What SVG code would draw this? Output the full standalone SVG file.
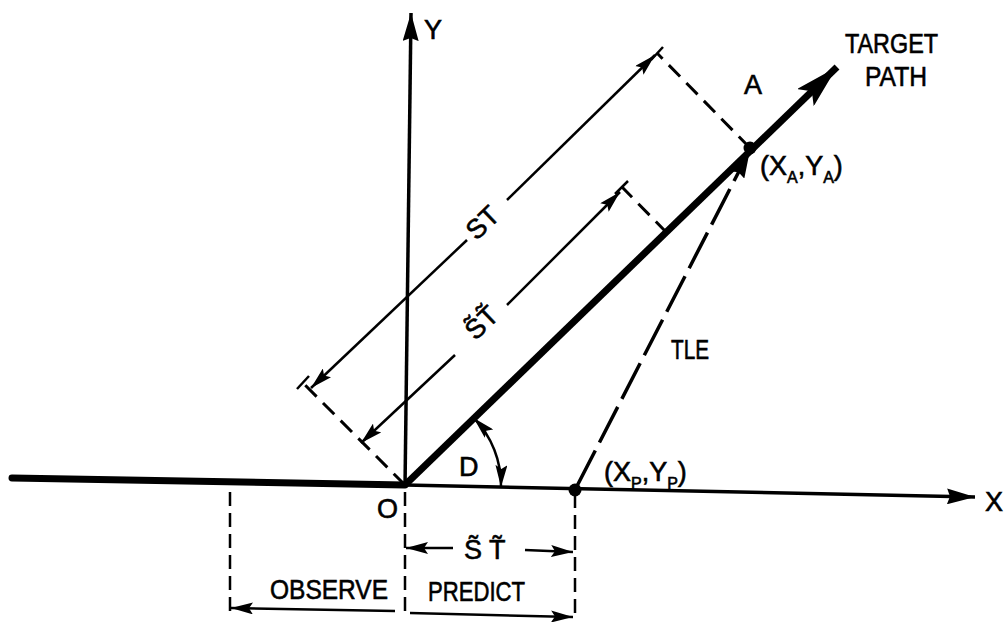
<svg xmlns="http://www.w3.org/2000/svg" width="1008" height="631" viewBox="0 0 1008 631">
<style>
text{font-family:"Liberation Sans","DejaVu Sans",sans-serif;fill:#000;font-size:27px;stroke:#000;stroke-width:0.6}
.thin{stroke:#000;stroke-width:2.5;fill:none}
.dash{stroke:#000;stroke-width:3;fill:none;stroke-dasharray:16 9}
.ldash{stroke:#000;stroke-width:3.5;fill:none;stroke-dasharray:40 9}
.vdash{stroke:#000;stroke-width:2.5;fill:none;stroke-dasharray:14 7}
</style>
<defs>
<marker id="ah" viewBox="0 0 22 12" refX="22" refY="6" markerWidth="22" markerHeight="12" markerUnits="userSpaceOnUse" orient="auto-start-reverse">
<path d="M0,0 L22,6 L0,12 L4,6 Z" fill="#000"/>
</marker>
<marker id="ahb" viewBox="0 0 28 16" refX="28" refY="8" markerWidth="28" markerHeight="16" markerUnits="userSpaceOnUse" orient="auto-start-reverse">
<path d="M0,0 L28,8 L0,16 L3,8 Z" fill="#000"/>
</marker>
<marker id="ahx" viewBox="0 0 44 24" refX="44" refY="12" markerWidth="44" markerHeight="24" markerUnits="userSpaceOnUse" orient="auto">
<path d="M0,0 L44,12 L0,24 L9,12 Z" fill="#000"/>
</marker>
</defs>
<g id="connectors">
<line x1="12" y1="478" x2="405" y2="485" stroke="#000" stroke-width="7" stroke-linecap="round"/>
<line x1="405" y1="485" x2="975" y2="497" stroke="#000" stroke-width="3.5" marker-end="url(#ahb)"/>
<line x1="405" y1="487" x2="411" y2="13" stroke="#000" stroke-width="3.5" marker-end="url(#ahb)"/>
<line x1="405" y1="485" x2="837" y2="67" stroke="#000" stroke-width="7" marker-end="url(#ahx)"/>
<line class="dash" x1="405" y1="485" x2="302" y2="382"/>
<line class="dash" x1="750" y1="148" x2="657" y2="53"/>
<line class="dash" x1="667" y1="233" x2="622" y2="187"/>
<line class="thin" stroke-width="3" x1="297" y1="389" x2="309" y2="376"/>
<line class="thin" stroke-width="3" x1="651" y1="60" x2="663" y2="47"/>
<line class="thin" stroke-width="3" x1="615" y1="194" x2="628" y2="181"/>
<line class="thin" stroke-width="3" x1="660" y1="240" x2="674" y2="226"/>
<line class="thin" x1="467" y1="240" x2="311" y2="388" marker-end="url(#ah)"/>
<line class="thin" x1="507" y1="200" x2="655" y2="55" marker-end="url(#ah)"/>
<line class="thin" x1="455" y1="355" x2="361" y2="443" marker-end="url(#ah)"/>
<line class="thin" x1="507" y1="305" x2="620" y2="192" marker-end="url(#ah)"/>
<path class="thin" stroke-width="3" d="M473.7,417.9 A96 96 0 0 1 501,487" marker-start="url(#ah)" marker-end="url(#ah)"/>
<line class="ldash" x1="577" y1="486" x2="750" y2="150" marker-end="url(#ahb)"/>
<line class="vdash" x1="230" y1="492" x2="230" y2="614"/>
<line class="vdash" x1="405" y1="492" x2="405" y2="618"/>
<line class="vdash" x1="575" y1="494" x2="575" y2="618"/>
<line class="thin" x1="453" y1="548" x2="406" y2="548" marker-end="url(#ah)"/>
<line class="thin" x1="525" y1="550" x2="573" y2="552" marker-end="url(#ah)"/>
<line class="thin" x1="395" y1="611" x2="231" y2="608" marker-end="url(#ah)"/>
<line class="thin" x1="410" y1="613" x2="573" y2="617" marker-end="url(#ah)"/>
</g>
<g id="point-A">
<circle cx="750" cy="148" r="6.5" fill="#000"/>
<text x="744" y="94" font-size="27">A</text>
<text x="760" y="175" font-size="27">(X<tspan font-size="16" dy="8">A</tspan><tspan dy="-8">,Y</tspan><tspan font-size="16" dy="8">A</tspan><tspan dy="-8">)</tspan></text>
</g>
<g id="point-P">
<circle cx="575" cy="490" r="6.5" fill="#000"/>
<text x="604" y="481" font-size="27">(X<tspan font-size="16" dy="8">P</tspan><tspan dy="-8">,Y</tspan><tspan font-size="16" dy="8">P</tspan><tspan dy="-8">)</tspan></text>
</g>
<g id="labels">
<text x="424" y="39">Y</text>
<text x="985" y="511">X</text>
<text x="377" y="518">O</text>
<text x="845" y="53" font-size="27" textLength="93" lengthAdjust="spacingAndGlyphs">TARGET</text>
<text x="865" y="86" font-size="27" textLength="62" lengthAdjust="spacingAndGlyphs">PATH</text>
<text x="671" y="359" font-size="27" textLength="38" lengthAdjust="spacingAndGlyphs">TLE</text>
<text x="459" y="476" font-size="27">D</text>
<text x="482" y="232" text-anchor="middle" font-size="29" transform="rotate(-44 482 222)">ST</text>
<text x="481" y="332" text-anchor="middle" font-size="29" transform="rotate(-44 481 322)">S&#771;T&#771;</text>
<text x="464" y="559" font-size="27">S&#771; T&#771;</text>
<text x="270" y="599" font-size="29" textLength="118" lengthAdjust="spacingAndGlyphs">OBSERVE</text>
<text x="428" y="601" font-size="29" textLength="97" lengthAdjust="spacingAndGlyphs">PREDICT</text>
</g>
</svg>
